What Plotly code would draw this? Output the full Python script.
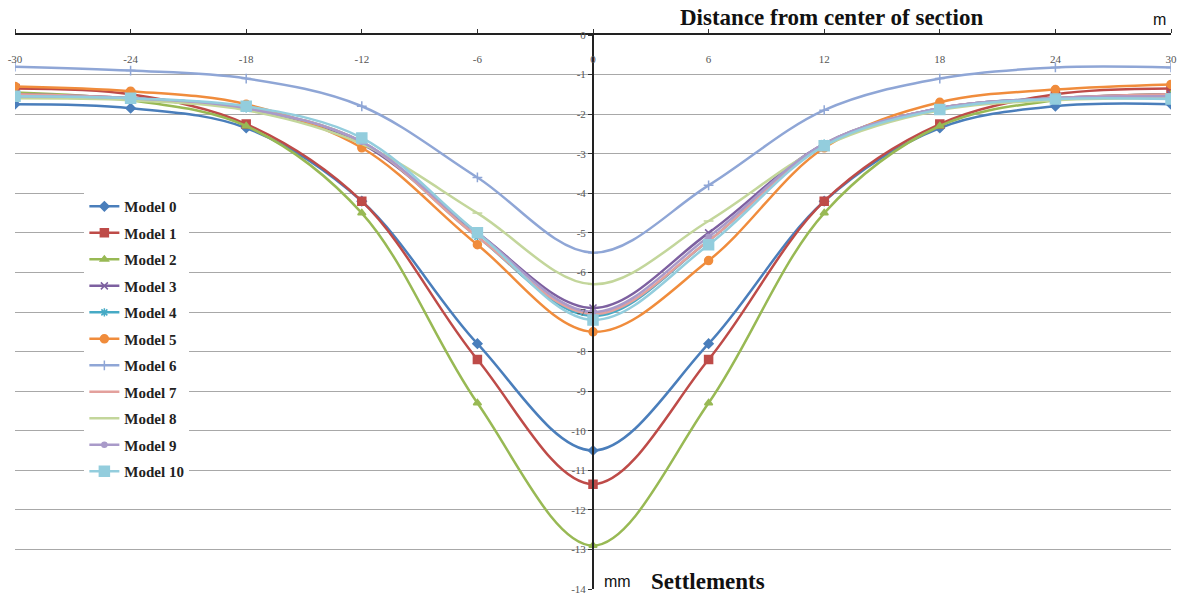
import plotly.graph_objects as go

# Distance from the centre of the section (m)
distance = [-30, -24, -18, -12, -6, 0, 6, 12, 18, 24, 30]
settlement_ticks = list(range(0, -15, -1))

# Surface settlements (mm) for each model
model_0 = [-1.75, -1.85, -2.35, -4.2, -7.8, -10.5, -7.8, -4.2, -2.35, -1.8, -1.75]
model_1 = [-1.35, -1.5, -2.25, -4.2, -8.2, -11.35, -8.2, -4.2, -2.25, -1.5, -1.35]
model_2 = [-1.45, -1.65, -2.3, -4.5, -9.3, -12.9, -9.3, -4.5, -2.3, -1.65, -1.5]
model_3 = [-1.5, -1.6, -1.85, -2.75, -5.0, -6.9, -5.0, -2.75, -1.85, -1.6, -1.5]
model_4 = [-1.55, -1.6, -1.85, -2.7, -5.1, -7.1, -5.2, -2.75, -1.85, -1.6, -1.55]
model_5 = [-1.3, -1.42, -1.75, -2.85, -5.3, -7.5, -5.7, -2.85, -1.7, -1.38, -1.25]
model_6 = [-0.8, -0.9, -1.1, -1.8, -3.6, -5.5, -3.8, -1.9, -1.1, -0.82, -0.82]
model_7 = [-1.5, -1.6, -1.85, -2.7, -5.1, -7.05, -5.2, -2.75, -1.85, -1.6, -1.5]
model_8 = [-1.6, -1.65, -1.9, -2.75, -4.5, -6.3, -4.7, -2.8, -1.9, -1.65, -1.6]
model_9 = [-1.55, -1.6, -1.85, -2.7, -5.0, -7.0, -5.1, -2.75, -1.85, -1.6, -1.55]
model_10 = [-1.55, -1.6, -1.8, -2.6, -5.0, -7.2, -5.3, -2.8, -1.88, -1.62, -1.62]

series = [
    ("Model 0", model_0, "#4A7EBB", "diamond", 7),
    ("Model 1", model_1, "#BE4B48", "square", 8),
    ("Model 2", model_2, "#98B954", "triangle-up", 7),
    ("Model 3", model_3, "#7D60A0", "x-thin", 7),
    ("Model 4", model_4, "#46AAC5", "asterisk", 7),
    ("Model 5", model_5, "#F08C3C", "circle", 8),
    ("Model 6", model_6, "#8FA6D6", "cross-thin", 7),
    ("Model 7", model_7, "#E3A09C", "line-ew", 7),
    ("Model 8", model_8, "#C3D69B", "line-ew", 7),
    ("Model 9", model_9, "#A99AC9", "circle", 5),
    ("Model 10", model_10, "#93CDDD", "square", 10),
]

fig = go.Figure()
for name, vals, color, symbol, size in series:
    fig.add_trace(go.Scatter(
        x=distance, y=vals, name=name, mode="lines+markers",
        line=dict(color=color, width=2.5, shape="spline", smoothing=1.0),
        marker=dict(symbol=symbol, size=size, color=color,
                    line=dict(color=color, width=1.5)),
        legendgroup=name,
    ))

serif = "Liberation Serif"

fig.update_layout(
    width=1184, height=601,
    margin=dict(l=15, r=13, t=35, b=6),
    paper_bgcolor="white", plot_bgcolor="white",
    showlegend=True,
    legend=dict(
        x=0.06, y=0.72, xanchor="left", yanchor="top",
        bgcolor="white", borderwidth=0,
        font=dict(family=serif, size=15, color="#222222", weight="bold"),
        tracegroupgap=4, itemwidth=30,
        traceorder="grouped",
    ),
    xaxis=dict(
        range=[-30, 30], side="top", anchor="y",
        tickvals=distance, ticktext=[str(v) for v in distance],
        ticks="outside", ticklen=4, tickcolor="#333333",
        ticklabelposition="inside", ticklabeloverflow="allow",
        ticklabelstandoff=20,
        tickfont=dict(family=serif, size=11, color="#555555"),
        showline=True, linecolor="#222222", linewidth=2,
        showgrid=False, zeroline=False,
    ),
    yaxis=dict(
        range=[-14, 0], anchor="free", position=0.5,
        tickvals=settlement_ticks, ticktext=[str(v) for v in settlement_ticks],
        ticks="outside", ticklen=4, tickcolor="#333333",
        ticklabeloverflow="allow",
        tickfont=dict(family=serif, size=11, color="#555555"),
        showline=True, linecolor="#222222", linewidth=2,
        showgrid=True, gridcolor="#A8A8A8", gridwidth=1,
        zeroline=False,
    ),
    annotations=[
        dict(text="<b>Distance from center of section</b>", xref="paper", yref="paper",
             x=0.706, y=1.0, yshift=18, xanchor="center", yanchor="middle",
             showarrow=False, font=dict(family=serif, size=23, color="#111111")),
        dict(text="m", xref="paper", yref="paper", x=0.99, y=1.0, yshift=16,
             xanchor="center", yanchor="middle", showarrow=False,
             font=dict(family="Liberation Sans", size=16, color="#111111")),
        dict(text="mm", x=0, y=-13.8, xref="x", yref="y", xshift=9,
             xanchor="left", yanchor="middle", showarrow=False,
             font=dict(family="Liberation Sans", size=16, color="#111111")),
        dict(text="<b>Settlements</b>", x=0, y=-13.8, xref="x", yref="y", xshift=56,
             xanchor="left", yanchor="middle", showarrow=False,
             font=dict(family=serif, size=23, color="#111111")),
    ],
)

fig.write_html("out.html")
